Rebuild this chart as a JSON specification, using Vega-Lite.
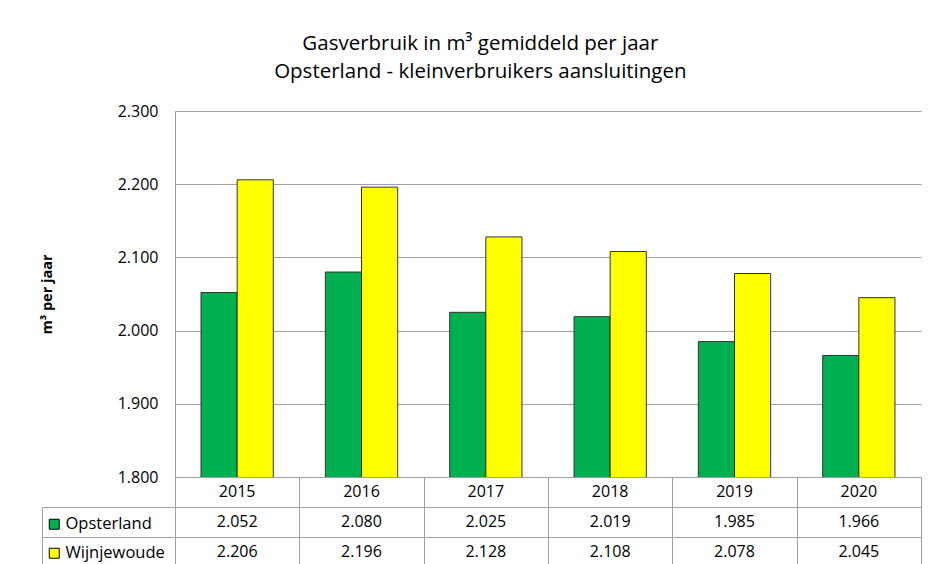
{
  "$schema": "https://vega.github.io/schema/vega-lite/v6.json",
  "padding": {"left": 39, "top": 33, "right": 0, "bottom": 0},
  "config": {
    "locale": {"number": {"decimal": ",", "thousands": ".", "grouping": [3], "currency": ["€", ""]}},
    "font": "Open Sans",
    "view": {"stroke": null},
    "axis": {"labelColor": "#000", "titleColor": "#000"}
  },
  "spacing": 0,
  "bounds": "flush",
  "title": {
    "text": ["Gasverbruik in m³ gemiddeld per jaar", "Opsterland - kleinverbruikers aansluitingen"],
    "fontSize": 20.5, "fontWeight": "normal", "lineHeight": 28, "anchor": "middle", "offset": 21, "color": "#000"
  },
  "datasets": {
    "gas": [
      {"year": "2015", "series": "Opsterland", "value": 2052},
      {"year": "2016", "series": "Opsterland", "value": 2080},
      {"year": "2017", "series": "Opsterland", "value": 2025},
      {"year": "2018", "series": "Opsterland", "value": 2019},
      {"year": "2019", "series": "Opsterland", "value": 1985},
      {"year": "2020", "series": "Opsterland", "value": 1966},
      {"year": "2015", "series": "Wijnjewoude", "value": 2206},
      {"year": "2016", "series": "Wijnjewoude", "value": 2196},
      {"year": "2017", "series": "Wijnjewoude", "value": 2128},
      {"year": "2018", "series": "Wijnjewoude", "value": 2108},
      {"year": "2019", "series": "Wijnjewoude", "value": 2078},
      {"year": "2020", "series": "Wijnjewoude", "value": 2045}
    ]
  },
  "vconcat": [
    {
      "width": 746, "height": 366,
      "data": {"name": "gas"},
      "mark": {"type": "bar", "stroke": "#333", "strokeWidth": 1, "clip": true},
      "encoding": {
        "x": {"field": "year", "type": "ordinal", "scale": {"paddingInner": 0, "paddingOuter": 0}, "axis": null},
        "xOffset": {"field": "series", "type": "nominal", "sort": ["Opsterland", "Wijnjewoude"], "scale": {"paddingInner": 0, "paddingOuter": 0.72}},
        "y": {
          "field": "value", "type": "quantitative",
          "scale": {"domain": [1800, 2300], "zero": false},
          "axis": {
            "title": "m³ per jaar", "titleFontWeight": "bold", "titleFontSize": 14.5, "titlePadding": 63,
            "values": [1800, 1900, 2000, 2100, 2200, 2300], "format": ",d",
            "labelFontSize": 16, "labelPadding": 17, "ticks": false,
            "domainColor": "#999", "gridColor": "#a0a0a0"
          }
        },
        "color": {
          "field": "series", "type": "nominal",
          "scale": {"domain": ["Opsterland", "Wijnjewoude"], "range": ["#00B050", "#FFFF00"]},
          "legend": {
            "orient": "none", "legendX": -129, "legendY": 405, "title": null,
            "symbolType": "square", "symbolSize": 100, "symbolStrokeColor": "#000", "symbolStrokeWidth": 1,
            "labelFontSize": 16.5, "labelColor": "#000", "rowPadding": 12, "labelOffset": 3
          }
        }
      }
    },
    {
      "width": 746, "height": 30,
      "data": {"name": "gas"},
      "transform": [{"filter": "datum.series == 'Opsterland'"}],
      "mark": {"type": "text", "fontSize": 16, "color": "#000"},
      "encoding": {
        "x": {"field": "year", "type": "ordinal", "scale": {"paddingInner": 0, "paddingOuter": 0},
              "axis": {"grid": true, "tickBand": "extent", "labels": false, "ticks": false, "domain": false, "title": null, "gridColor": "#a0a0a0"}},
        "text": {"field": "year"}
      },
      "view": {"stroke": "#a0a0a0"}
    },
    {
      "width": 746, "height": 60,
      "data": {"name": "gas"},
      "mark": {"type": "text", "fontSize": 16, "color": "#000"},
      "encoding": {
        "x": {"field": "year", "type": "ordinal", "scale": {"paddingInner": 0, "paddingOuter": 0},
              "axis": {"grid": true, "tickBand": "extent", "labels": false, "ticks": false, "domain": false, "title": null, "gridColor": "#a0a0a0"}},
        "y": {"field": "series", "type": "nominal", "sort": ["Opsterland", "Wijnjewoude"], "scale": {"paddingInner": 0, "paddingOuter": 0},
              "axis": {"title": null, "labels": false, "grid": true, "tickBand": "extent", "gridColor": "#a0a0a0",
                       "offset": 133, "domain": true, "domainColor": "#a0a0a0", "ticks": true, "tickSize": -133, "tickColor": "#a0a0a0"}},
        "text": {"field": "value", "type": "quantitative", "format": ",d"}
      },
      "view": {"stroke": "#a0a0a0"}
    }
  ]
}
